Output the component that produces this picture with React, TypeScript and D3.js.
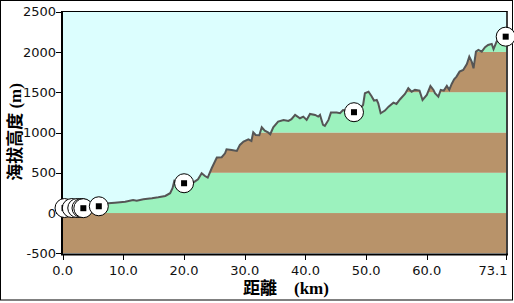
import React from "react";
import * as d3 from "d3";

const distanceKm = [0, 0.8, 1.6, 2.5, 3.5, 4.5, 5.5, 6.5, 7.5, 8.6, 10.3, 11.6, 12.2, 13.3, 14.7, 15.75, 16.9, 17.7, 18.1, 18.4, 18.9, 19.5, 20.5, 21.5, 22.3, 22.9, 23.45, 23.9, 24.55, 25.4, 26.2, 26.75, 27.0, 27.85, 28.7, 29.2, 29.8, 30.6, 31.1, 31.4, 31.8, 32.4, 32.8, 33.3, 33.9, 34.2, 34.7, 35.5, 36.4, 37.2, 37.7, 38.3, 39.1, 39.65, 40.2, 40.75, 41.6, 42.1, 42.4, 42.9, 43.2, 43.8, 44.2, 45.15, 45.7, 46.2, 47.0, 48.0, 49.0, 49.5, 49.8, 50.4, 50.9, 51.3, 51.75, 52.0, 52.4, 53.1, 53.7, 54.5, 55.0, 55.6, 56.4, 56.95, 57.5, 58.05, 58.8, 59.3, 60.0, 60.6, 61.1, 61.35, 61.9, 62.3, 62.8, 63.3, 63.7, 64.1, 64.5, 64.9, 65.4, 66.0, 66.6, 67.0, 67.4, 67.7, 68.1, 68.5, 69.05, 69.6, 70.1, 70.7, 71.0, 71.5, 72.1, 72.6, 73.1];
const elevationM = [30, 40, 50, 58, 68, 78, 88, 100, 122, 129, 141, 163, 154, 171, 184, 196, 212, 246, 308, 402, 395, 390, 385, 377, 420, 494, 460, 440, 556, 690, 693, 742, 792, 784, 771, 846, 887, 916, 895, 1003, 970, 966, 1065, 1023, 998, 978, 1065, 1135, 1156, 1143, 1165, 1218, 1177, 1197, 1156, 1230, 1218, 1197, 1218, 1094, 1082, 1156, 1247, 1247, 1240, 1280, 1270, 1260, 1300, 1342, 1487, 1507, 1450, 1396, 1404, 1363, 1239, 1272, 1321, 1371, 1355, 1413, 1479, 1550, 1507, 1529, 1520, 1404, 1466, 1578, 1529, 1487, 1445, 1529, 1520, 1578, 1529, 1603, 1661, 1694, 1756, 1777, 1851, 1942, 1880, 1798, 2004, 2025, 2004, 2059, 2087, 2100, 2034, 2128, 2170, 2200, 2210];

const markerKm = [0.3, 1.5, 2.4, 3.1, 3.4, 5.95, 20.0, 48.0, 73.0];
const markerM = [62, 62, 62, 62, 60, 84, 370, 1252, 2190];

const bandLow = [-500, 0, 500, 1000, 1500, 2000];
const bandHigh = [0, 500, 1000, 1500, 2000, 2500];
const bandColor = ["#b8936a", "#9cf2be", "#b8936a", "#9cf2be", "#b8936a", "#9cf2be"];

const yTicks = [-500, 0, 500, 1000, 1500, 2000, 2500];
const xTicks = [0, 10, 20, 30, 40, 50, 60, 73.1];
const xTickLabels = ["0.0", "10.0", "20.0", "30.0", "40.0", "50.0", "60.0", "73.1"];

const W = 514;
const H = 303;
const L = 62.7, R = 506.3, T = 11.7, B = 253.3;

export default function App() {
  const x = d3.scaleLinear().domain([0, 73.1]).range([L, R]);
  const y = d3.scaleLinear().domain([-500, 2500]).range([B, T]);
  const pts: [number, number][] = distanceKm.map((d, i) => [d, elevationM[i]]);
  const area = d3.area<[number, number]>().x(d => x(d[0])).y0(y(-500)).y1(d => y(d[1]));
  const line = d3.line<[number, number]>().x(d => x(d[0])).y(d => y(d[1]));
  const tickFont = "'DejaVu Sans', Tahoma, sans-serif";
  const labelFont = "'Liberation Serif', 'Noto Sans CJK TC', serif";
  return (
    <svg width={W} height={H} style={{ position: "absolute", left: 0, top: 0, background: "#fff" }}>
      <defs>
        <clipPath id="terrain">
          <path d={area(pts) || ""} />
        </clipPath>
      </defs>
      <rect x={0.5} y={0.5} width={512} height={299.5} fill="#fff" stroke="#000" strokeWidth={1} />
      <rect x={L} y={T} width={R - L} height={B - T} fill="#dcfefe" />
      <g clipPath="url(#terrain)">
        {bandLow.map((lo, i) => (
          <rect key={i} x={L} y={y(bandHigh[i])} width={R - L} height={y(lo) - y(bandHigh[i])} fill={bandColor[i]} />
        ))}
      </g>
      <path d={line(pts) || ""} fill="none" stroke="#555" strokeWidth={2} strokeLinejoin="miter" />
      {/* frame */}
      <line x1={L - 1} x2={R + 1} y1={11.5} y2={11.5} stroke="#000" strokeWidth={1} />
      <line x1={507} x2={507} y1={11} y2={B + 1} stroke="#000" strokeWidth={1.5} />
      <line x1={62} x2={62} y1={11} y2={255} stroke="#000" strokeWidth={2} />
      <line x1={61} x2={508} y1={254.5} y2={254.5} stroke="#000" strokeWidth={2} />
      {yTicks.map(t => (
        <g key={t}>
          <line x1={56} x2={62} y1={Math.round(y(t)) + 0.5} y2={Math.round(y(t)) + 0.5} stroke="#000" strokeWidth={1} />
          <text x={56} y={y(t)} dy="0.36em" textAnchor="end" fontFamily={tickFont} fontSize={13} fill="#111">{t}</text>
        </g>
      ))}
      {xTicks.map((t, i) => (
        <g key={t}>
          <line x1={Math.round(x(t)) + 0.5} x2={Math.round(x(t)) + 0.5} y1={254} y2={260} stroke="#000" strokeWidth={1} />
          <text x={i === xTicks.length - 1 ? 507.5 : x(t)} y={275} textAnchor={i === xTicks.length - 1 ? "end" : "middle"} fontFamily={tickFont} fontSize={13} fill="#111">{xTickLabels[i]}</text>
        </g>
      ))}
      <text x={243} y={294} fontFamily={labelFont} fontSize={17} fontWeight="bold" fill="#000" xmlSpace="preserve">{"距離　(km)"}</text>
      <text transform="translate(15,132) rotate(-90)" textAnchor="middle" dominantBaseline="central" fontFamily={labelFont} fontSize={17} fontWeight="bold" fill="#000">{"海拔高度 (m)"}</text>
      {markerKm.map((k, i) => (
        <g key={i} transform={`translate(${x(k)},${y(markerM[i])})`}>
          <circle r={9.5} fill="#fff" stroke="#000" strokeWidth={1} />
          <rect x={-3} y={-3} width={6} height={6} fill="#000" />
        </g>
      ))}
    </svg>
  );
}
